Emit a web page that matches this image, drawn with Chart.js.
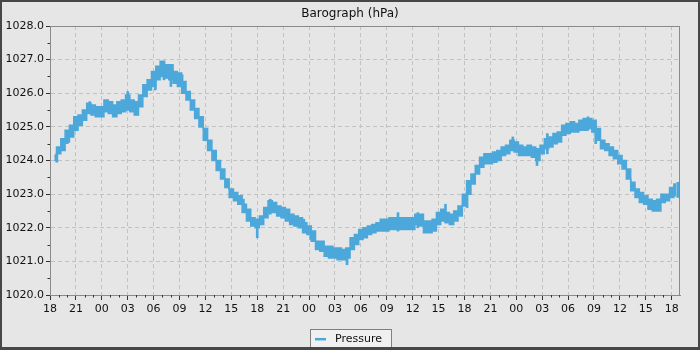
<!DOCTYPE html>
<html><head><meta charset="utf-8">
<script src="https://cdn.jsdelivr.net/npm/chart.js@4.4.0/dist/chart.umd.min.js"></script>
<style>html,body{margin:0;padding:0;background:#e6e6e6}#wrap{width:700px;height:350px}</style>
</head><body><div id="wrap"><canvas id="c" width="700" height="350"></canvas></div>
<script>
// hours since 18:00 of the first day
const hours = [0.5,1,1.5,2,2.5,3,3.5,4,4.5,5,5.5,6,6.5,7,7.5,8,8.5,9,9.5,10,10.5,11,11.5,12,12.5,13,13.5,14,14.5,15,15.5,16,16.5,17,17.5,18,18.5,19,19.5,20,20.5,21,21.5,22,22.5,23,23.5,24,24.5,25,25.5,26,26.5,27,27.5,28,28.5,29,29.5,30,30.5,31,31.5,32,32.5,33,33.5,34,34.5,35,35.5,36,36.5,37,37.5,38,38.5,39,39.5,40,40.5,41,41.5,42,42.5,43,43.5,44,44.5,45,45.5,46,46.5,47,47.5,48,48.5,49,49.5,50,50.5,51,51.5,52,52.5,53,53.5,54,54.5,55,55.5,56,56.5,57,57.5,58,58.5,59,59.5,60,60.5,61,61.5,62,62.5,63,63.5,64,64.5,65,65.5,66,66.5,67,67.5,68,68.5,69,69.5,70,70.5,71,71.5,72,72.5];
const pressureLow = [1024.0,1024.2,1024.3,1024.55,1024.7,1024.9,1025.05,1025.2,1025.4,1025.35,1025.3,1025.3,1025.45,1025.4,1025.3,1025.4,1025.45,1025.5,1025.45,1025.35,1025.6,1025.9,1026.1,1026.2,1026.4,1026.5,1026.45,1026.4,1026.3,1026.2,1026.0,1025.8,1025.5,1025.25,1025.0,1024.6,1024.3,1024.0,1023.7,1023.45,1023.2,1022.9,1022.8,1022.7,1022.45,1022.2,1022.05,1022.0,1022.1,1022.3,1022.45,1022.45,1022.35,1022.3,1022.2,1022.1,1022.05,1022.0,1021.85,1021.8,1021.6,1021.35,1021.3,1021.15,1021.1,1021.1,1021.05,1021.05,1021.1,1021.35,1021.5,1021.65,1021.7,1021.8,1021.85,1021.9,1021.9,1021.9,1021.95,1021.95,1021.95,1021.95,1021.95,1021.95,1022.1,1022.05,1021.85,1021.85,1021.9,1022.1,1022.2,1022.15,1022.1,1022.2,1022.35,1022.65,1023.0,1023.3,1023.6,1023.8,1023.9,1023.9,1023.95,1024.0,1024.15,1024.2,1024.3,1024.25,1024.15,1024.15,1024.15,1024.1,1024.0,1024.2,1024.35,1024.4,1024.5,1024.55,1024.75,1024.8,1024.85,1024.85,1024.9,1024.9,1024.95,1024.85,1024.6,1024.35,1024.3,1024.15,1024.05,1023.9,1023.75,1023.45,1023.1,1022.9,1022.75,1022.7,1022.55,1022.5,1022.5,1022.75,1022.8,1022.9,1022.95];
const pressureHigh = [1024.15,1024.4,1024.65,1024.9,1025.05,1025.3,1025.35,1025.5,1025.7,1025.65,1025.6,1025.6,1025.8,1025.75,1025.65,1025.75,1025.8,1025.95,1025.8,1025.75,1025.95,1026.25,1026.4,1026.65,1026.8,1026.95,1026.85,1026.85,1026.65,1026.6,1026.35,1026.05,1025.8,1025.55,1025.3,1024.95,1024.6,1024.3,1024.0,1023.75,1023.45,1023.15,1023.05,1022.95,1022.7,1022.55,1022.3,1022.25,1022.35,1022.6,1022.8,1022.75,1022.65,1022.6,1022.55,1022.4,1022.35,1022.3,1022.15,1022.05,1021.9,1021.6,1021.6,1021.45,1021.45,1021.4,1021.4,1021.35,1021.4,1021.7,1021.8,1021.95,1022.0,1022.05,1022.1,1022.15,1022.25,1022.25,1022.3,1022.3,1022.3,1022.3,1022.3,1022.3,1022.4,1022.4,1022.2,1022.2,1022.25,1022.45,1022.55,1022.45,1022.4,1022.5,1022.65,1023.0,1023.4,1023.6,1023.85,1024.1,1024.2,1024.2,1024.25,1024.3,1024.4,1024.45,1024.6,1024.55,1024.45,1024.4,1024.45,1024.4,1024.35,1024.45,1024.65,1024.7,1024.8,1024.85,1025.05,1025.1,1025.15,1025.1,1025.2,1025.25,1025.25,1025.2,1024.95,1024.6,1024.5,1024.4,1024.3,1024.15,1024.0,1023.75,1023.35,1023.15,1023.05,1022.95,1022.85,1022.8,1022.85,1023.0,1023.0,1023.2,1023.3];
// isolated short-lived excursions (spikes) seen on the trace
const spikeHours = [0.8,2.0,4.6,9.0,10.0,12.2,13.2,14.0,15.3,22.4,24.0,25.5,29.4,30.2,34.4,40.3,42.6,45.8,48.3,53.6,56.4,57.6,62.3,63.2,72.7];
const spikeLow  = [1023.95,1024.5,1025.4,1025.6,1025.35,1026.1,1026.4,1026.2,1026.2,1022.55,1021.7,1022.4,1021.9,1021.65,1020.9,1021.9,1022.0,1022.2,1022.6,1024.3,1023.85,1024.2,1024.9,1024.5,1022.9];
const spikeHigh = [1024.2,1024.75,1025.75,1026.05,1025.7,1026.5,1026.95,1026.8,1026.55,1022.85,1022.2,1022.85,1022.25,1021.95,1021.3,1022.45,1022.45,1022.7,1023.05,1024.7,1024.3,1024.8,1025.3,1025.05,1023.35];
const xTickHours = [0,3,6,9,12,15,18,21,24,27,30,33,36,39,42,45,48,51,54,57,60,63,66,69,72];
const xTickLabels = ['18','21','00','03','06','09','12','15','18','21','00','03','06','09','12','15','18','21','00','03','06','09','12','15','18'];
const yTicks = [1020,1021,1022,1023,1024,1025,1026,1027,1028];
const chartTitle = 'Barograph (hPa)';

const BLUE = '#4ca8da';
const FONT = "'DejaVu Sans', sans-serif";

const hiData = hours.map((h, i) => ({x: h, y: pressureHigh[i]}));
const loData = hours.map((h, i) => ({x: h, y: pressureLow[i]}));
const spikeData = spikeHours.map((h, i) => ({x: h, y: [spikeLow[i], spikeHigh[i]]}));

const decor = {
  id: 'decor',
  beforeDraw(chart) {
    const ctx = chart.ctx;
    ctx.save();
    ctx.fillStyle = '#e6e6e6';
    ctx.fillRect(0, 0, chart.width, chart.height);
    ctx.restore();
  },
  afterDraw(chart) {
    const ctx = chart.ctx, a = chart.chartArea;
    const xs = chart.scales.x, ys = chart.scales.y;
    ctx.save();
    // title
    ctx.font = '12px ' + FONT;
    ctx.fillStyle = '#111'; ctx.textAlign = 'center'; ctx.textBaseline = 'alphabetic';
    ctx.fillText(chartTitle, chart.width / 2, 16.5);
    // plot outline
    ctx.strokeStyle = '#8a8a8a'; ctx.lineWidth = 1;
    ctx.strokeRect(Math.round(a.left) + 0.5, Math.round(a.top) + 0.5, Math.round(a.right - a.left) - 1, Math.round(a.bottom - a.top));
    // minor ticks
    ctx.strokeStyle = '#333';
    ctx.beginPath();
    for (let h = 1; h < 73; h++) {
      if (h % 3 === 0) continue;
      const px = Math.round(xs.getPixelForValue(h)) + 0.5;
      ctx.moveTo(px, a.bottom); ctx.lineTo(px, a.bottom + 2.5);
    }
    for (let v = 1020.5; v < 1028; v += 1) {
      const py = Math.round(ys.getPixelForValue(v)) + 0.5;
      ctx.moveTo(a.left - 2.5, py); ctx.lineTo(a.left, py);
    }
    ctx.stroke();
    // legend
    const label = chart.data.datasets[0].label;
    ctx.font = '11px ' + FONT;
    const tw = ctx.measureText(label).width;
    const w = Math.round(25 + tw + 9);
    const left = Math.round(chart.width / 2 - w / 2) + 0.5;
    const top = 329.5;
    ctx.fillStyle = '#f0f0f0';
    ctx.fillRect(left, top, w, 18);
    ctx.strokeStyle = '#808080';
    ctx.strokeRect(left, top, w, 18);
    ctx.strokeStyle = BLUE; ctx.lineWidth = 2.5;
    ctx.beginPath(); ctx.moveTo(left + 4.5, 339.2); ctx.lineTo(left + 15.5, 339.2); ctx.stroke();
    ctx.fillStyle = '#111'; ctx.textBaseline = 'alphabetic'; ctx.textAlign = 'left';
    ctx.fillText(label, left + 24.5, 341.5);
    // outer frame
    ctx.fillStyle = '#474747';
    ctx.fillRect(0, 0, chart.width, 2);
    ctx.fillRect(0, 0, 2, chart.height);
    ctx.fillRect(chart.width - 2, 0, 2, chart.height);
    ctx.fillRect(0, chart.height - 3, chart.width, 3);
    ctx.restore();
  }
};

new Chart(document.getElementById('c'), {
  type: 'line',
  data: {
    datasets: [
      { label: 'Pressure', data: hiData, borderColor: BLUE, backgroundColor: BLUE, borderWidth: 1.5, pointRadius: 0, stepped: 'middle', fill: false },
      { label: 'PressureLow', data: loData, borderColor: BLUE, backgroundColor: BLUE, borderWidth: 1.5, pointRadius: 0, stepped: 'middle', fill: '-1' },
      { type: 'bar', label: 'PressureSpikes', data: spikeData, backgroundColor: BLUE, borderWidth: 0, barThickness: 2, grouped: false }
    ]
  },
  options: {
    responsive: false,
    animation: false,
    devicePixelRatio: 1,
    layout: { padding: { left: 0, right: 20, top: 26, bottom: 0 } },
    plugins: {
      legend: { display: false },
      tooltip: { enabled: false },
      title: { display: false }
    },
    scales: {
      x: {
        type: 'linear', min: 0, max: 72.96, offset: false,
        afterBuildTicks: s => { s.ticks = xTickHours.map(v => ({ value: v })); },
        ticks: { autoSkip: false, maxRotation: 0, minRotation: 0, padding: 3, color: '#111', font: { family: FONT, size: 11 }, callback: (v, i) => xTickLabels[i] },
        grid: { color: '#c2c2c2', lineWidth: 1, tickLength: 5, tickColor: '#333', offset: false },
        border: { color: '#8a8a8a', width: 1, dash: [4, 3] },
        afterFit: s => { s.height = 55; }
      },
      y: {
        type: 'linear', min: 1020, max: 1028,
        afterBuildTicks: s => { s.ticks = yTicks.map(v => ({ value: v })); },
        ticks: { padding: 2, color: '#111', font: { family: FONT, size: 11 }, callback: v => Number(v).toFixed(1) },
        grid: { color: '#c2c2c2', lineWidth: 1, tickLength: 4, tickColor: '#333' },
        border: { color: '#8a8a8a', width: 1, dash: [4, 3] },
        afterFit: s => { s.width = 50; }
      }
    }
  },
  plugins: [decor]
});
</script>
</body></html>
